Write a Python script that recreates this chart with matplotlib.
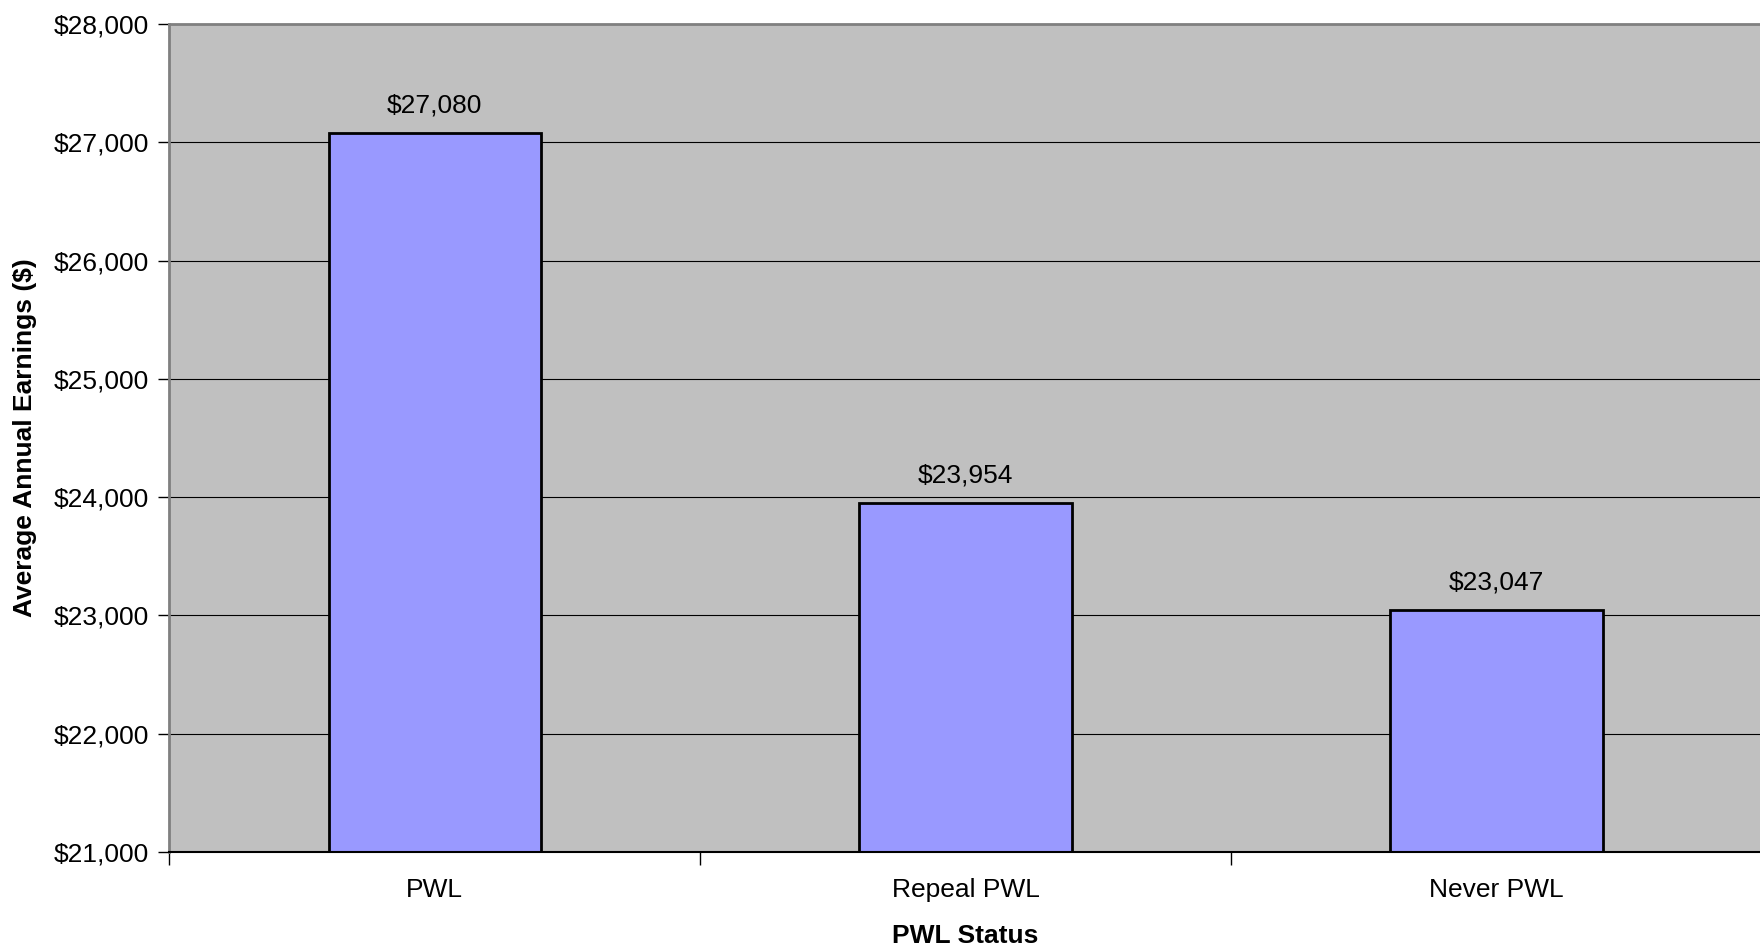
import numpy as np
import matplotlib
matplotlib.use('Agg')
import matplotlib.pyplot as plt
from matplotlib.ticker import FixedLocator, FuncFormatter

categories = ['PWL', 'Repeal PWL', 'Never PWL']
earnings = [27080, 23954, 23047]
y_ticks = [21000, 22000, 23000, 24000, 25000, 26000, 27000, 28000]

plt.rcParams['font.family'] = ['Liberation Sans', 'DejaVu Sans']

fig = plt.figure(figsize=(17.6, 9.49), dpi=100)
ax = fig.add_axes([0.0963, 0.1022, 0.9047, 0.8725])
ax.set_facecolor('#C0C0C0')

x = np.arange(len(categories))
ax.set_axisbelow(True)
ax.yaxis.grid(True, color='black', linewidth=0.8)
bars = ax.bar(x, earnings, width=0.4, color='#9999FF', edgecolor='black', linewidth=2)

for xi, val in zip(x, earnings):
    ax.annotate(f'${val:,}', (xi, val), xytext=(0, 11), textcoords='offset points',
                ha='center', va='bottom', fontsize=19)

ax.set_ylim(21000, 28000)
ax.set_xlim(-0.5, len(categories) - 0.5)
ax.set_yticks(y_ticks)
ax.yaxis.set_major_formatter(FuncFormatter(lambda v, p: f'${v:,.0f}'))
ax.tick_params(axis='y', labelsize=19, length=8, width=1, pad=7)

ax.set_xticks(x)
ax.set_xticklabels(categories)
ax.tick_params(axis='x', which='major', labelsize=19, length=0, pad=19)
ax.xaxis.set_minor_locator(FixedLocator(np.arange(-0.5, len(categories), 1.0)))
ax.tick_params(axis='x', which='minor', length=9, width=1)

for side in ['left', 'top']:
    ax.spines[side].set_color('#808080')
    ax.spines[side].set_linewidth(2)
ax.spines['bottom'].set_color('black')
ax.spines['bottom'].set_linewidth(1.5)
ax.spines['right'].set_visible(False)

ax.set_xlabel('PWL Status', fontsize=19, fontweight='bold')
ax.xaxis.set_label_coords(0.5, -0.102)
ax.xaxis.label.set_va('center')
ax.set_ylabel('Average Annual Earnings ($)', fontsize=19, fontweight='bold')
ax.yaxis.set_label_coords(-0.0907, 0.5)
ax.yaxis.label.set_va('center')

fig.savefig('out.png', dpi=100)
